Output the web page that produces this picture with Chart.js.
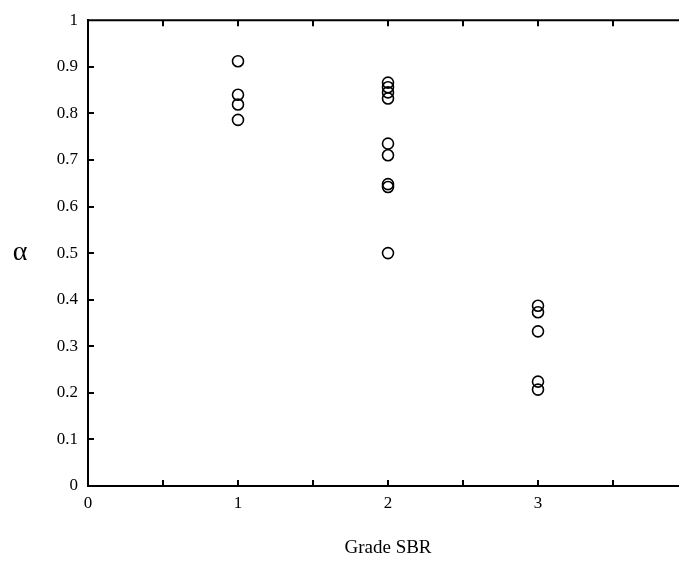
<!DOCTYPE html>
<html>
<head>
<meta charset="utf-8">
<script src="https://cdn.jsdelivr.net/npm/chart.js@4"></script>
<style>
  html, body { margin: 0; padding: 0; background: #fff; overflow: hidden; }
  #wrap { width: 700px; height: 567px; }
</style>
</head>
<body>
<div id="wrap"><canvas id="grafico" width="700" height="567"></canvas></div>
<script>
// valores: alpha por grado SBR
const grado1 = [0.912, 0.840, 0.819, 0.786];
const grado2 = [0.866, 0.856, 0.845, 0.832, 0.735, 0.710, 0.648, 0.642, 0.500];
const grado3 = [0.387, 0.373, 0.332, 0.224, 0.207];
const grados = [1, 2, 3];
const xTicks = [0, 0.5, 1, 1.5, 2, 2.5, 3, 3.5];

const fuente = "'Liberation Serif', 'Times New Roman', serif";

function puntos(grado, valores) {
  return valores.map((v) => ({ x: grado, y: v }));
}

const todos = [grado1, grado2, grado3]
  .map((vals, i) => puntos(grados[i], vals))
  .flat();

// ejes con marcas hacia dentro, borde superior y etiqueta alpha
const ejes = {
  id: "ejes",
  afterDraw(chart) {
    const ctx = chart.ctx;
    const area = chart.chartArea;
    const x = chart.scales.x;
    const y = chart.scales.y;
    ctx.save();
    ctx.strokeStyle = "#000";
    ctx.lineWidth = 2;
    ctx.beginPath();
    ctx.moveTo(area.left - 1, area.top);
    ctx.lineTo(area.right + 20, area.top);
    ctx.stroke();

    ctx.beginPath();
    xTicks.forEach((t) => {
      const px = Math.round(x.getPixelForValue(t));
      ctx.moveTo(px, area.bottom);
      ctx.lineTo(px, area.bottom - 6);
      ctx.moveTo(px, area.top);
      ctx.lineTo(px, area.top + 6);
    });
    for (let i = 1; i < 10; i++) {
      const py = Math.round(y.getPixelForValue(i / 10));
      ctx.moveTo(area.left, py);
      ctx.lineTo(area.left + 6, py);
    }
    ctx.stroke();

    ctx.fillStyle = "#000";
    ctx.font = "28px " + fuente;
    ctx.textAlign = "center";
    ctx.textBaseline = "middle";
    ctx.fillText("\u03B1", 20, (area.top + area.bottom) / 2);
    ctx.restore();
  },
};

new Chart(document.getElementById("grafico"), {
  type: "scatter",
  data: {
    datasets: [
      {
        data: todos,
        pointStyle: "circle",
        pointRadius: 5.5,
        pointBorderWidth: 1.6,
        borderColor: "#000",
        backgroundColor: "rgba(0,0,0,0)",
      },
    ],
  },
  options: {
    responsive: false,
    animation: false,
    devicePixelRatio: 1,
    layout: { padding: { top: 10, right: 12, left: 0, bottom: 0 } },
    plugins: {
      legend: { display: false },
      tooltip: { enabled: false },
    },
    scales: {
      x: {
        type: "linear",
        min: 0,
        max: 4,
        afterFit: (s) => { s.height = 81; },
        grid: { display: false, drawTicks: false },
        border: { display: true, color: "#000", width: 2 },
        ticks: {
          stepSize: 0.5,
          padding: 7,
          color: "#000",
          font: { family: fuente, size: 17 },
          maxRotation: 0,
          autoSkip: false,
          callback: (v) => (Number.isInteger(v) && v < 4 ? String(v) : ""),
        },
        title: {
          display: true,
          text: "Grade SBR",
          color: "#000",
          font: { family: fuente, size: 19 },
          padding: { top: 8, bottom: 8 },
        },
      },
      y: {
        min: 0,
        max: 1,
        afterFit: (s) => { s.width = 88; },
        grid: { display: false, drawTicks: false },
        border: { display: true, color: "#000", width: 2 },
        ticks: {
          stepSize: 0.1,
          padding: 10,
          color: "#000",
          font: { family: fuente, size: 17 },
          callback: (v) => String(+v.toFixed(1)),
        },
      },
    },
  },
  plugins: [ejes],
});
</script>
</body>
</html>
